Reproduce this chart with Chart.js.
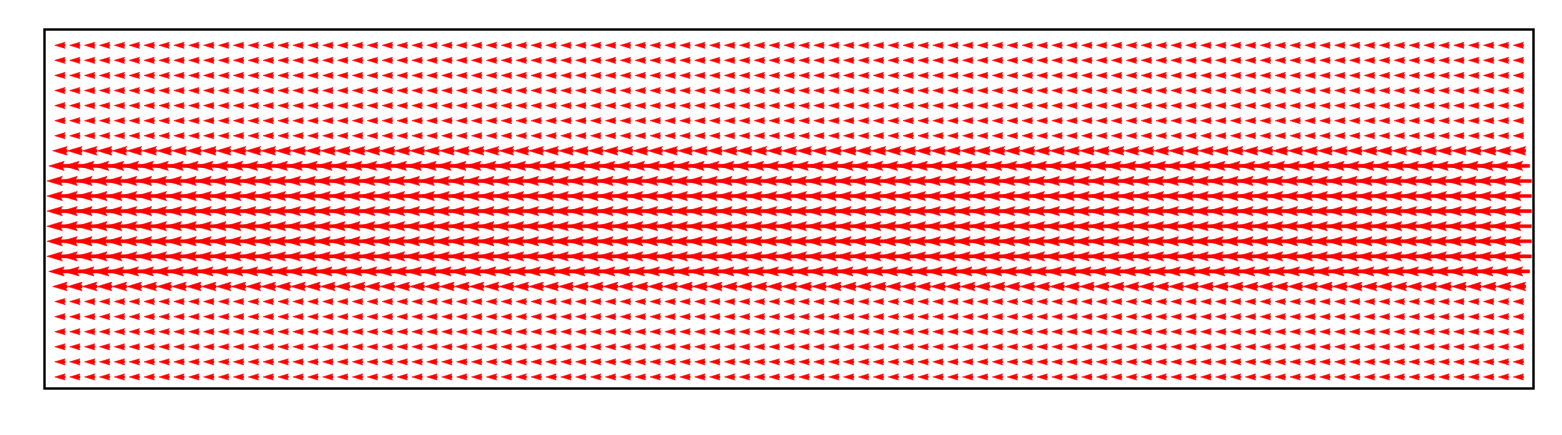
<!DOCTYPE html>
<html>
<head>
<meta charset="utf-8">
<title>Quiver</title>
<script src="https://cdn.jsdelivr.net/npm/chart.js@4.4.1/dist/chart.umd.min.js"></script>
<style>
  html, body { margin: 0; padding: 0; background: #ffffff; }
  #quiver { display: block; }
</style>
</head>
<body>
<canvas id="quiver" width="1562" height="435"></canvas>
<script>
// grid columns (x positions)
const colX = [0, 1, 2, 3, 4, 5, 6, 7, 8, 9, 10, 11, 12, 13, 14, 15, 16, 17, 18, 19,
    20, 21, 22, 23, 24, 25, 26, 27, 28, 29, 30, 31, 32, 33, 34, 35, 36, 37, 38, 39,
    40, 41, 42, 43, 44, 45, 46, 47, 48, 49, 50, 51, 52, 53, 54, 55, 56, 57, 58, 59,
    60, 61, 62, 63, 64, 65, 66, 67, 68, 69, 70, 71, 72, 73, 74, 75, 76, 77, 78, 79,
    80, 81, 82, 83, 84, 85, 86, 87, 88, 89, 90, 91, 92, 93, 94, 95, 96, 97, 98];

// grid rows, top to bottom
const rowY = [22, 21, 20, 19, 18, 17, 16, 15, 14, 13, 12, 11, 10, 9, 8, 7, 6, 5, 4, 3, 2, 1, 0];

// horizontal velocity for each row (same along x), vertical component is zero
const rowU = [-0.4, -0.4, -0.4, -0.4, -0.4, -0.4, -0.4,
    -0.56,
    -0.86, -1.0, -1.0, -1.0, -1.0, -1.0, -1.0, -0.86,
    -0.56,
    -0.4, -0.4, -0.4, -0.4, -0.4, -0.4];
const rowV = [0, 0, 0, 0, 0, 0, 0, 0, 0, 0, 0, 0, 0, 0, 0, 0, 0, 0, 0, 0, 0, 0, 0];

// arrow length in x-units per unit of velocity
const arrowScale = 1.75;
const shaftWidth = 3.1;

const points = [];
rowY.forEach(function (y, r) {
    colX.forEach(function (x) {
        points.push({ x: x, y: y, u: rowU[r], v: rowV[r] });
    });
});

// matplotlib style arrow, pivot in the middle
function drawArrow(ctx, px, py, len, angle, w) {
    const hl = 5 * w, hal = 4.5 * w, hw = 3 * w;
    const minsh = hl;
    let pts;
    if (len >= minsh) {
        pts = [[0, 0.5 * w], [len - hal, 0.5 * w], [len - hl, hw / 2], [len, 0],
            [len - hl, -hw / 2], [len - hal, -0.5 * w], [0, -0.5 * w]];
    } else {
        const s = len / minsh;
        pts = [[0, 0.5 * w], [minsh - hal, 0.5 * w], [minsh - hl, hw / 2], [minsh, 0],
            [minsh - hl, -hw / 2], [minsh - hal, -0.5 * w], [0, -0.5 * w]]
            .map(p => [p[0] * s, p[1] * s]);
    }
    ctx.save();
    ctx.translate(px, py);
    ctx.rotate(angle);
    ctx.translate(-len / 2, 0);
    ctx.beginPath();
    pts.forEach((p, i) => i ? ctx.lineTo(p[0], p[1]) : ctx.moveTo(p[0], p[1]));
    ctx.closePath();
    ctx.fill();
    ctx.stroke();
    ctx.restore();
}

const quiverPlugin = {
    id: "quiver",
    afterDatasetsDraw(chart) {
        const ctx = chart.ctx;
        const xs = chart.scales.x, ys = chart.scales.y;
        const area = chart.chartArea;
        ctx.save();
        ctx.beginPath();
        ctx.rect(area.left, area.top, area.right - area.left, area.bottom - area.top);
        ctx.clip();
        ctx.fillStyle = "#ff0000";
        ctx.strokeStyle = "#ff0000";
        ctx.lineWidth = 0.5;
        ctx.lineJoin = "miter";
        chart.data.datasets[0].data.forEach(function (d) {
            const px = xs.getPixelForValue(d.x);
            const py = ys.getPixelForValue(d.y);
            const dx = xs.getPixelForValue(d.x + d.u * arrowScale) - px;
            const dy = ys.getPixelForValue(d.y + d.v * arrowScale) - py;
            drawArrow(ctx, px, py, Math.hypot(dx, dy), Math.atan2(dy, dx), shaftWidth);
        });
        ctx.restore();
    },
    afterDraw(chart) {
        // axes frame
        const ctx = chart.ctx;
        const a = chart.chartArea;
        ctx.save();
        ctx.strokeStyle = "#000000";
        ctx.lineWidth = 2.4;
        ctx.strokeRect(a.left + 0.5, a.top + 0.5, a.right - a.left - 1, a.bottom - a.top - 1);
        ctx.restore();
    }
};

new Chart(document.getElementById("quiver").getContext("2d"), {
    type: "scatter",
    data: {
        datasets: [{
            data: points,
            pointRadius: 0,
            pointHoverRadius: 0
        }]
    },
    options: {
        responsive: false,
        animation: false,
        devicePixelRatio: 1,
        layout: { padding: { left: 44, top: 29, right: 28, bottom: 46 } },
        plugins: { legend: { display: false }, tooltip: { enabled: false } },
        scales: {
            x: { type: "linear", min: -1.07, max: 99.05, display: false },
            y: { type: "linear", min: -0.8, max: 23.08, display: false }
        }
    },
    plugins: [quiverPlugin]
});
</script>
</body>
</html>
